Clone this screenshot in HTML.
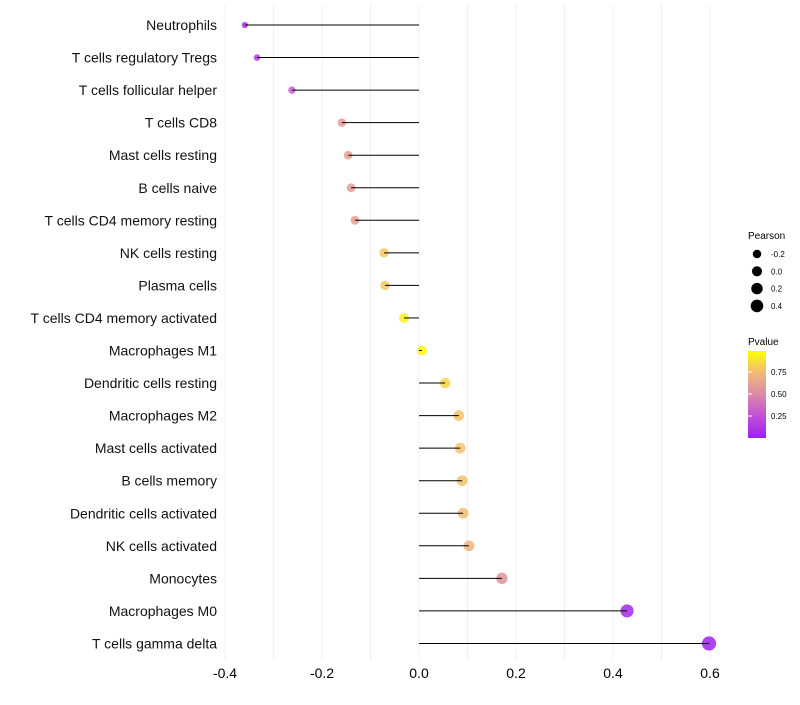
<!DOCTYPE html>
<html><head><meta charset="utf-8"><style>
body{margin:0;background:#fff;font-family:"Liberation Sans",sans-serif}
</style></head><body>
<svg id="chart" width="800" height="700" xmlns="http://www.w3.org/2000/svg" font-family="Liberation Sans, sans-serif">
<defs><linearGradient id="pg" x1="0" y1="1" x2="0" y2="0">
<stop offset="0" stop-color="#9E1FF0"/><stop offset="0.25" stop-color="#C050D8"/><stop offset="0.5" stop-color="#DC88A8"/><stop offset="0.75" stop-color="#F0BA78"/><stop offset="1" stop-color="#FFFF00"/></linearGradient></defs>
<g id="grid"></g><g id="points"></g><g id="marks"></g><g id="labels"></g><g id="legend"></g>
</svg>
<script>
const categories=["Neutrophils","T cells regulatory  Tregs","T cells follicular helper","T cells CD8","Mast cells resting","B cells naive","T cells CD4 memory resting","NK cells resting","Plasma cells","T cells CD4 memory activated","Macrophages M1","Dendritic cells resting","Macrophages M2","Mast cells activated","B cells memory","Dendritic cells activated","NK cells activated","Monocytes","Macrophages M0","T cells gamma delta"];
const pearson=[-0.359,-0.334,-0.262,-0.159,-0.146,-0.140,-0.132,-0.072,-0.070,-0.031,0.006,0.054,0.082,0.085,0.089,0.091,0.103,0.171,0.429,0.598];
const pvalue=[0.1,0.15,0.32,0.6,0.62,0.6,0.62,0.8,0.8,0.95,0.98,0.85,0.78,0.78,0.77,0.76,0.72,0.55,0.05,0.01];
const xTicks=[-0.4,-0.2,0.0,0.2,0.4,0.6];
const NS="http://www.w3.org/2000/svg";
const X=v=>419+v*485;
const Y=i=>25+i*32.55;
const R=v=>Math.sqrt(Math.max(3,25+42*v));
const stops=[[0,[158,31,240]],[0.25,[192,80,216]],[0.5,[220,136,168]],[0.75,[240,186,120]],[1,[255,255,0]]];
function col(p){for(let k=1;k<stops.length;k++){if(p<=stops[k][0]){const a=stops[k-1],b=stops[k],t=(p-a[0])/(b[0]-a[0]);return "rgb("+a[1].map((c,j)=>Math.round(c+(b[1][j]-c)*t)).join(",")+")";}}return "rgb(255,255,0)";}
function mk(tag,at,parent){const e=document.createElementNS(NS,tag);for(const k in at)e.setAttribute(k,at[k]);document.getElementById(parent).appendChild(e);return e;}
for(let v=-0.4;v<=0.61;v+=0.1){const g=mk("line",{x1:X(v),x2:X(v),y1:5,y2:660,stroke:"#f0f0f0","stroke-width":1},"grid");

}
xTicks.forEach(t=>{const e=mk("text",{x:X(t),y:678,"text-anchor":"middle","font-size":14,fill:"#000"},"labels");e.textContent=t.toFixed(1);

});
categories.forEach((c,i)=>{
const p=mk("circle",{cx:X(pearson[i]),cy:Y(i),r:R(pearson[i]),fill:col(pvalue[i]),"fill-opacity":0.85},"points");


const l=mk("line",{x1:X(0),x2:X(pearson[i]),y1:Y(i),y2:Y(i),stroke:"#000","stroke-width":1},"marks");


const t=mk("text",{x:217,y:Y(i)+5,"text-anchor":"end","font-size":14,fill:"#111"},"labels");t.textContent=c;

});
const lt=mk("text",{x:748,y:239,"font-size":10},"legend");lt.textContent="Pearson";


[-0.2,0.0,0.2,0.4].forEach((v,k)=>{const y=254+k*17.3;
const c=mk("circle",{cx:757,cy:y,r:R(v)*0.85+0.8,fill:"#000"},"legend");


const t=mk("text",{x:771,y:y+3,"font-size":8},"legend");t.textContent=v.toFixed(1);

});
const pt=mk("text",{x:748,y:345,"font-size":10},"legend");pt.textContent="Pvalue";


const bar=mk("rect",{x:748,y:351,width:18,height:87,fill:"url(#pg)"},"legend");


[[0.75,"0.75"],[0.5,"0.50"],[0.25,"0.25"]].forEach(([v,s])=>{const y=438-v*88;
const tk=mk("line",{x1:748,x2:752,y1:y,y2:y,stroke:"#fff"},"legend");


const t=mk("text",{x:771,y:y+3,"font-size":8},"legend");t.textContent=s;

});
</script>
</body></html>
